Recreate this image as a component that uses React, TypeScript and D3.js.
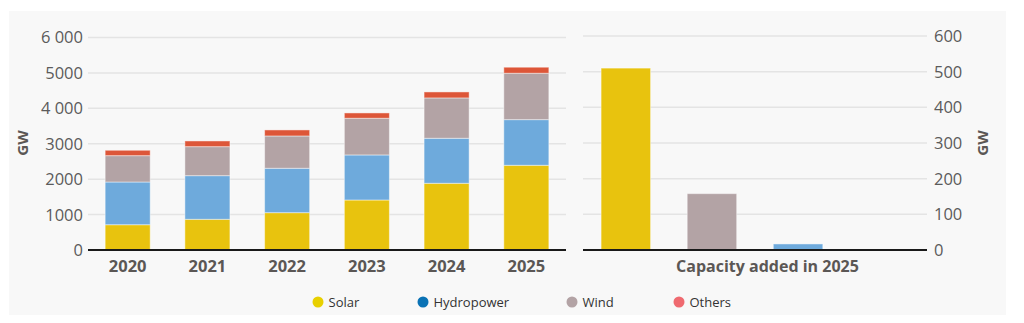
import React from "react";
import * as d3 from "d3";

const years = ["2020", "2021", "2022", "2023", "2024", "2025"];
const solar = [714, 867, 1054, 1412, 1884, 2392];
const hydro = [1206, 1232, 1254, 1272, 1271, 1289];
const wind = [744, 819, 912, 1036, 1139, 1310];
const others = [152, 161, 170, 150, 169, 170];

const addedCats = ["Solar", "Wind", "Hydropower", "Others"];
const addedValues = [510, 158, 17, 1.5];

const leftTicks = [0, 1000, 2000, 3000, 4000, 5000, 6000];
const leftTickLabels = ["0", "1000", "2000", "3000", "4 000", "5000", "6 000"];
const rightTicks = [0, 100, 200, 300, 400, 500, 600];

const seriesNames = ["Solar", "Hydropower", "Wind", "Others"];
const barColors = ["#e8c30e", "#6eaadc", "#b3a3a5", "#dd5638"];
const legendColors = ["#e8d000", "#0a72b5", "#b3a3a5", "#ef6a70"];

const FONT = "'Open Sans', 'Noto Sans', sans-serif";

export default function App() {
  const W = 1024, H = 323;
  const baseY = 250;

  const xL = d3.scaleBand<string>().domain(years).range([88, 566]).paddingInner(0.435).paddingOuter(0.215);
  const yL = d3.scaleLinear().domain([0, 6000]).range([baseY, 37.5]);

  const xR = d3.scaleBand<string>().domain(addedCats).range([583, 927]).paddingInner(0.425).paddingOuter(0.21);
  const yR = d3.scaleLinear().domain([0, 600]).range([baseY, 36]);

  const table = years.map((y, i) => ({ year: y, Solar: solar[i], Hydropower: hydro[i], Wind: wind[i], Others: others[i] }));
  const stacked = d3.stack<any>().keys(seriesNames)(table);

  const addedColor = (c: string) => barColors[seriesNames.indexOf(c)];

  return (
    <svg width={W} height={H} style={{ position: "absolute", left: 0, top: 0, fontFamily: FONT }}>
      <rect x={0} y={0} width={W} height={H} fill="#ffffff" />
      <rect x={9} y={11} width={997} height={304} fill="#f8f8f8" />

      {/* left gridlines */}
      {leftTicks.map((t) => (
        <line key={"gl" + t} x1={88} x2={566} y1={yL(t)} y2={yL(t)} stroke="#e4e4e4" strokeWidth={1.5} />
      ))}
      {leftTicks.map((t, i) => (
        <text key={"tl" + t} x={83} y={yL(t)} dy="0.36em" textAnchor="end" fontSize={16.5} fill="#5b5b5b">
          {leftTickLabels[i]}
        </text>
      ))}
      <text transform={`translate(28,143) rotate(-90)`} textAnchor="middle" fontSize={15} fontWeight={700} fill="#5b5755">
        GW
      </text>

      {/* stacked bars */}
      {stacked.map((s, si) => (
        <g key={s.key}>
          {s.map((d: any, i: number) => (
            <rect
              key={i}
              x={xL(years[i])}
              y={yL(d[1])}
              width={xL.bandwidth()}
              height={yL(d[0]) - yL(d[1])}
              fill={barColors[si]}
              stroke="rgba(255,255,255,0.45)"
              strokeWidth={1}
            />
          ))}
        </g>
      ))}
      <line x1={88} x2={566} y1={baseY} y2={baseY} stroke="#1a1a1a" strokeWidth={2} />
      {years.map((y) => (
        <text key={"xl" + y} x={(xL(y) as number) + xL.bandwidth() / 2} y={272} textAnchor="middle" fontSize={16.5} fontWeight={700} fill="#5b5755">
          {y}
        </text>
      ))}

      {/* right gridlines */}
      {rightTicks.map((t) => (
        <line key={"gr" + t} x1={583} x2={927} y1={yR(t)} y2={yR(t)} stroke="#e4e4e4" strokeWidth={1.5} />
      ))}
      {rightTicks.map((t) => (
        <text key={"tr" + t} x={934} y={yR(t)} dy="0.36em" textAnchor="start" fontSize={16.5} fill="#5b5b5b">
          {String(t)}
        </text>
      ))}
      <text transform={`translate(988,143) rotate(-90)`} textAnchor="middle" fontSize={15} fontWeight={700} fill="#5b5755">
        GW
      </text>
      {addedCats.map((c, i) => (
        <rect
          key={"rb" + c}
          x={xR(c)}
          y={yR(addedValues[i])}
          width={xR.bandwidth()}
          height={yR(0) - yR(addedValues[i])}
          fill={addedColor(c)}
          stroke="rgba(255,255,255,0.45)"
          strokeWidth={1}
        />
      ))}
      <line x1={583} x2={927} y1={baseY} y2={baseY} stroke="#1a1a1a" strokeWidth={2} />
      <text x={767.5} y={272} textAnchor="middle" fontSize={16} fontWeight={700} fill="#5b5755">
        Capacity added in 2025
      </text>

      {/* legend */}
      {seriesNames.map((n, i) => {
        const xs = [318, 423, 572, 679];
        return (
          <g key={"lg" + n} transform={`translate(${xs[i]},302)`}>
            <circle cx={0} cy={0} r={5.5} fill={legendColors[i]} />
            <text x={10.5} y={0} dy="0.36em" fontSize={13} fill="#333333">
              {n}
            </text>
          </g>
        );
      })}
    </svg>
  );
}
